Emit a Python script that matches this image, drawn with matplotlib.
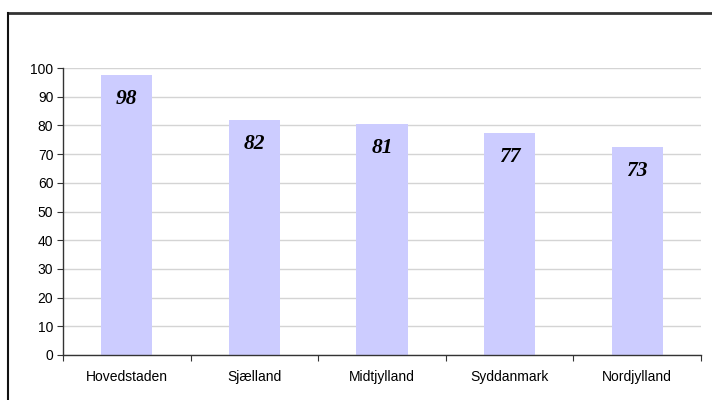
import matplotlib
matplotlib.use("Agg")
import matplotlib.pyplot as plt
from matplotlib.lines import Line2D

categories = ["Hovedstaden", "Sjælland", "Midtjylland", "Syddanmark", "Nordjylland"]
values = [97.6, 81.8, 80.6, 77.2, 72.6]
labels = ["98", "82", "81", "77", "73"]
yticks = [0, 10, 20, 30, 40, 50, 60, 70, 80, 90, 100]

W, H = 712, 400
fig = plt.figure(figsize=(W / 100, H / 100), dpi=100)
fig.patch.set_facecolor("white")

ax = fig.add_axes([63 / W, (H - 355) / H, (701 - 63) / W, (355 - 68) / H])
x = list(range(len(categories)))
ax.bar(x, values, width=0.4, color="#CCCCFF", zorder=2)
ax.set_xlim(-0.5, len(categories) - 0.5)
ax.set_ylim(0, 100)
ax.set_yticks(yticks)
ax.set_yticklabels([str(t) for t in yticks], fontfamily="Liberation Sans", fontsize=10)
ax.yaxis.grid(True, color="#D4D4D4", linewidth=1, zorder=0)
ax.set_axisbelow(True)

ax.set_xticks([i - 0.5 for i in range(len(categories) + 1)])
ax.set_xticklabels([])
ax.set_xticks(x, minor=True)
ax.set_xticklabels(categories, minor=True, fontfamily="Liberation Sans", fontsize=10)
ax.tick_params(axis="x", which="minor", length=0, pad=11)
ax.tick_params(axis="x", which="major", length=4, color="#333333", direction="out")
ax.tick_params(axis="y", length=4, color="#333333", direction="out", pad=3)

for s in ["top", "right"]:
    ax.spines[s].set_visible(False)
for s in ["left", "bottom"]:
    ax.spines[s].set_color("#333333")
    ax.spines[s].set_linewidth(1)

for xi, v, lab in zip(x, values, labels):
    ax.annotate(lab, (xi, v), xytext=(0, -24), textcoords="offset pixels",
                ha="center", va="center", fontfamily="Liberation Serif",
                fontweight="bold", fontstyle="italic", fontsize=15.5, color="black", zorder=3)

# outer frame (top and left edges visible)
fig.add_artist(Line2D([8 / W, 1], [1 - 13 / H, 1 - 13 / H], transform=fig.transFigure,
                      color="#333333", linewidth=2))
fig.add_artist(Line2D([8 / W, 8 / W], [0, 1 - 13 / H], transform=fig.transFigure,
                      color="#111111", linewidth=1.5))

fig.savefig("out.png", dpi=100)
